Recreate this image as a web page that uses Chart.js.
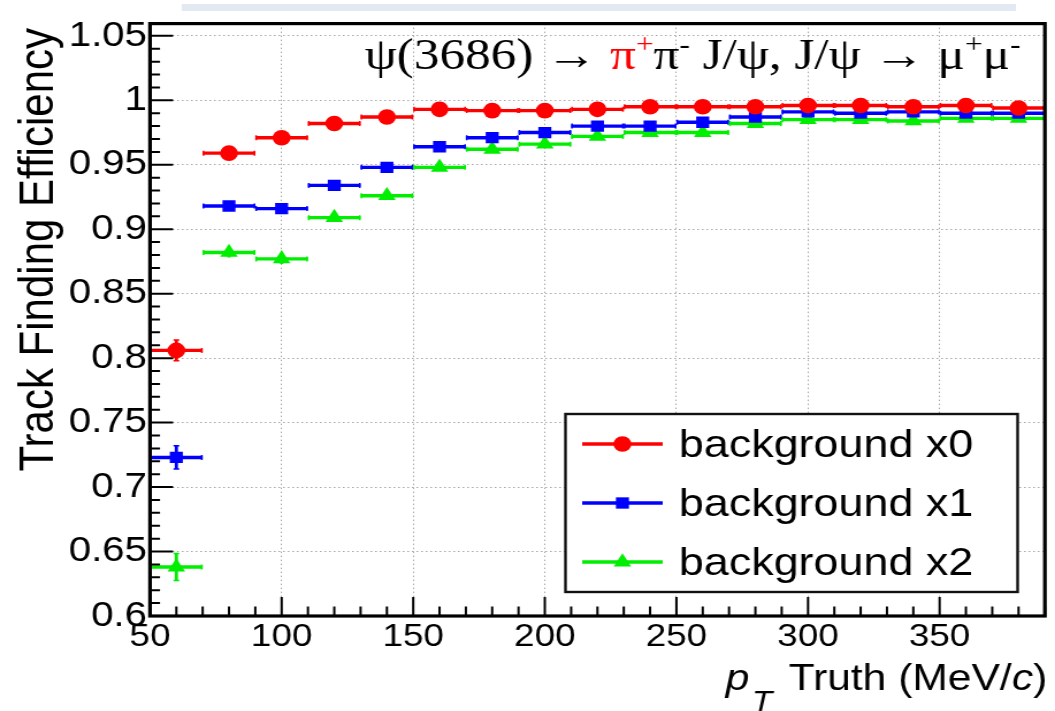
<!DOCTYPE html>
<html lang="en">
<head>
<meta charset="UTF-8">
<title>Track Finding Efficiency</title>
<style>
  html, body { margin: 0; padding: 0; background: #fff; overflow: hidden; }
  /* the plot is drawn on a narrower canvas and widened to the page */
  #wrap { width: 917px; height: 711px; transform: scaleX(1.1505); transform-origin: 0 0; }
</style>
<script src="https://cdn.jsdelivr.net/npm/chart.js"></script>
</head>
<body>
<div id="wrap"><canvas id="effChart" width="917" height="711"></canvas></div>
<script>
// pT bin centres in MeV/c, 20 MeV/c wide bins
const ptBins = [60, 80, 100, 120, 140, 160, 180, 200, 220, 240, 260, 280, 300, 320, 340, 360, 380];
const binHalfWidth = 10;

// efficiency per bin for the three background levels
const effBkg0 = [0.806, 0.959, 0.971, 0.982, 0.987, 0.993, 0.992, 0.992, 0.993, 0.995, 0.995, 0.995, 0.996, 0.996, 0.995, 0.996, 0.994];
const effBkg1 = [0.723, 0.918, 0.916, 0.934, 0.948, 0.964, 0.971, 0.975, 0.980, 0.980, 0.983, 0.987, 0.991, 0.990, 0.991, 0.990, 0.990];
const effBkg2 = [0.638, 0.882, 0.877, 0.909, 0.926, 0.948, 0.962, 0.966, 0.972, 0.975, 0.975, 0.982, 0.985, 0.985, 0.984, 0.986, 0.986];

// statistical errors
const errBkg0 = [0.008, 0.003, 0.003, 0.002, 0.002, 0.0015, 0.0015, 0.0015, 0.0015, 0.001, 0.001, 0.001, 0.001, 0.001, 0.001, 0.001, 0.001];
const errBkg1 = [0.009, 0.003, 0.003, 0.003, 0.002, 0.002, 0.002, 0.002, 0.0015, 0.0015, 0.0015, 0.0015, 0.001, 0.001, 0.001, 0.001, 0.001];
const errBkg2 = [0.0105, 0.004, 0.004, 0.003, 0.003, 0.002, 0.002, 0.002, 0.002, 0.0015, 0.0015, 0.0015, 0.0015, 0.001, 0.001, 0.001, 0.001];

const seriesLabels = ['background x0', 'background x1', 'background x2'];
const xMajorTicks = [50, 100, 150, 200, 250, 300, 350];
const yMajorTicks = [0.6, 0.65, 0.7, 0.75, 0.8, 0.85, 0.9, 0.95, 1.0, 1.05];

const RED = '#ff0000', BLUE = '#0000ff', GREEN = '#00ee00';
const SANS = '"Liberation Sans", Arial, Helvetica, sans-serif';
const SERIF = '"Liberation Serif", "Times New Roman", serif';

function toPoints(vals, errs) {
  return ptBins.map((x, i) => ({ x: x, y: vals[i], xerr: binHalfWidth, yerr: errs[i] }));
}

// marker paths, same geometry as chart.js point styles
function marker(ctx, style, r, x, y) {
  ctx.beginPath();
  if (style === 'circle') {
    ctx.arc(x, y, r, 0, Math.PI * 2);
  } else if (style === 'rect') {
    const h = r * Math.SQRT1_2;
    ctx.rect(x - h, y - h, 2 * h, 2 * h);
  } else if (style === 'triangle') {
    ctx.moveTo(x, y - r);
    ctx.lineTo(x + r * Math.sin(Math.PI / 3), y + r / 2);
    ctx.lineTo(x - r * Math.sin(Math.PI / 3), y + r / 2);
    ctx.closePath();
  }
  ctx.fill();
}

const background = {
  id: 'background',
  beforeDraw(chart) {
    const { ctx, width, height } = chart;
    ctx.save();
    ctx.fillStyle = '#fff';
    ctx.fillRect(0, 0, width, height);
    ctx.fillStyle = '#e2e9f2';
    ctx.fillRect(158, 4, 725, 7);
    ctx.restore();
  }
};

// horizontal bin-width bars and vertical error bars
const errorBars = {
  id: 'errorBars',
  beforeDatasetsDraw(chart) {
    const { ctx, chartArea: a, scales: { x, y } } = chart;
    ctx.save();
    ctx.beginPath();
    ctx.rect(a.left, a.top, a.right - a.left, a.bottom - a.top);
    ctx.clip();
    chart.data.datasets.forEach(ds => {
      ctx.strokeStyle = ds.borderColor;
      ds.data.forEach(p => {
        const py = y.getPixelForValue(p.y);
        const px = x.getPixelForValue(p.x);
        const x0 = x.getPixelForValue(p.x - p.xerr);
        const x1 = x.getPixelForValue(p.x + p.xerr);
        ctx.lineWidth = 3.4;
        ctx.beginPath();
        ctx.moveTo(x0, py); ctx.lineTo(x1, py);
        ctx.stroke();
        ctx.lineWidth = 1.5;
        ctx.beginPath();
        ctx.moveTo(x0 + 0.75, py - 2.5); ctx.lineTo(x0 + 0.75, py + 2.5);
        ctx.moveTo(x1 - 0.75, py - 2.5); ctx.lineTo(x1 - 0.75, py + 2.5);
        ctx.stroke();
        const yHi = y.getPixelForValue(p.y + p.yerr);
        const yLo = y.getPixelForValue(p.y - p.yerr);
        ctx.lineWidth = 2.8;
        ctx.beginPath();
        ctx.moveTo(px, yHi); ctx.lineTo(px, yLo);
        ctx.stroke();
        if (yLo - yHi > 14) {
          ctx.lineWidth = 1.5;
          ctx.beginPath();
          ctx.moveTo(px - 2.5, yHi); ctx.lineTo(px + 2.5, yHi);
          ctx.moveTo(px - 2.5, yLo); ctx.lineTo(px + 2.5, yLo);
          ctx.stroke();
        }
      });
    });
    ctx.restore();
  }
};

// frame plus inward major/minor ticks on the bottom and left axes
const frameTicks = {
  id: 'frameTicks',
  afterDatasetsDraw(chart) {
    const { ctx, chartArea: a, scales: { x, y } } = chart;
    ctx.save();
    ctx.strokeStyle = '#000';
    ctx.lineWidth = 2;
    ctx.beginPath();
    for (let k = 5; k <= 39; k++) {
      const px = x.getPixelForValue(k * 10);
      const len = k % 5 === 0 ? 19 : 9.5;
      ctx.moveTo(px, a.bottom); ctx.lineTo(px, a.bottom - len);
    }
    for (let k = 60; k <= 105; k++) {
      const py = y.getPixelForValue(k / 100);
      const len = k % 5 === 0 ? 20 : 8.7;
      ctx.moveTo(a.left, py); ctx.lineTo(a.left + len, py);
    }
    ctx.stroke();
    ctx.lineWidth = 3.2;
    ctx.strokeRect(a.left, a.top, a.right - a.left, a.bottom - a.top);
    ctx.restore();
  }
};

const rootLegend = {
  id: 'rootLegend',
  afterDatasetsDraw(chart) {
    const { ctx } = chart;
    const box = { left: 491.5, top: 414, right: 884.5, bottom: 592 };
    const rows = [444, 503, 562];
    ctx.save();
    ctx.fillStyle = '#fff';
    ctx.fillRect(box.left, box.top, box.right - box.left, box.bottom - box.top);
    ctx.strokeStyle = '#111';
    ctx.lineWidth = 2.4;
    ctx.strokeRect(box.left, box.top, box.right - box.left, box.bottom - box.top);
    chart.data.datasets.forEach((ds, i) => {
      const cy = rows[i];
      ctx.strokeStyle = ds.borderColor;
      ctx.lineWidth = 3.4;
      ctx.beginPath();
      ctx.moveTo(506, cy); ctx.lineTo(576, cy);
      ctx.stroke();
      ctx.fillStyle = ds.backgroundColor;
      marker(ctx, ds.pointStyle, ds.pointRadius, 541, cy);
      ctx.fillStyle = '#000';
      ctx.font = '39px ' + SANS;
      ctx.textAlign = 'left';
      ctx.textBaseline = 'alphabetic';
      ctx.fillText(ds.label, 590, cy + 13);
    });
    ctx.restore();
  }
};

// draws a run of text pieces, returns the width used
function drawRuns(ctx, runs, x, y, measureOnly) {
  let cx = x;
  runs.forEach(r => {
    ctx.font = r.font;
    if (!measureOnly) {
      ctx.fillStyle = r.color || '#000';
      ctx.fillText(r.t, cx, y + (r.dy || 0));
    }
    cx += ctx.measureText(r.t).width + (r.gap || 0);
  });
  return cx - x;
}

const titles = {
  id: 'titles',
  afterDraw(chart) {
    const { ctx, chartArea: a } = chart;
    ctx.save();
    ctx.textBaseline = 'alphabetic';
    ctx.textAlign = 'left';

    // decay channel label
    const big = '44px ' + SERIF, sup = '27px ' + SERIF;
    const decay = [
      { t: 'ψ(3686) → ', font: big },
      { t: 'π', font: big, color: RED },
      { t: '+', font: sup, color: RED, dy: -16 },
      { t: 'π', font: big },
      { t: '-', font: sup, dy: -16 },
      { t: ' J/ψ, J/ψ → μ', font: big },
      { t: '+', font: sup, dy: -16 },
      { t: 'μ', font: big },
      { t: '-', font: sup, dy: -16 }
    ];
    const natural = drawRuns(ctx, decay, 0, 0, true);
    ctx.save();
    ctx.translate(317, 69);
    ctx.scale(570 / natural, 1);
    drawRuns(ctx, decay, 0, 0, false);
    ctx.restore();

    // y axis title, right aligned at the top of the axis
    ctx.save();
    ctx.translate(46, 28);
    ctx.rotate(-Math.PI / 2);
    ctx.font = '42px ' + SANS;
    ctx.fillStyle = '#000';
    ctx.textAlign = 'right';
    ctx.fillText('Track Finding Efficiency', 0, 0);
    ctx.restore();

    // x axis title, right aligned at the end of the axis
    const xt = [
      { t: 'p', font: 'italic 37px ' + SANS, gap: 2 },
      { t: 'T', font: 'italic 29px ' + SANS, dy: 21, gap: 4 },
      { t: ' Truth (MeV/', font: '37px ' + SANS },
      { t: 'c', font: 'italic 37px ' + SANS },
      { t: ')', font: '37px ' + SANS }
    ];
    const w = drawRuns(ctx, xt, 0, 0, true);
    drawRuns(ctx, xt, a.right + 2 - w, 690, false);
    ctx.restore();
  }
};

const datasets = [
  { label: seriesLabels[0], data: toPoints(effBkg0, errBkg0), color: RED, pointStyle: 'circle', pointRadius: 7.8 },
  { label: seriesLabels[1], data: toPoints(effBkg1, errBkg1), color: BLUE, pointStyle: 'rect', pointRadius: 8 },
  { label: seriesLabels[2], data: toPoints(effBkg2, errBkg2), color: GREEN, pointStyle: 'triangle', pointRadius: 8.8 }
].map(d => ({
  label: d.label,
  data: d.data,
  borderColor: d.color,
  backgroundColor: d.color,
  pointStyle: d.pointStyle,
  pointRadius: d.pointRadius,
  pointHoverRadius: d.pointRadius,
  pointBorderWidth: 0,
  showLine: false
}));

new Chart(document.getElementById('effChart'), {
  type: 'scatter',
  data: { datasets: datasets },
  options: {
    responsive: false,
    animation: false,
    events: [],
    layout: { padding: { top: 12, right: 7.4, left: 0, bottom: 0 } },
    plugins: { legend: { display: false }, tooltip: { enabled: false } },
    scales: {
      x: {
        type: 'linear',
        min: 50,
        max: 390,
        afterBuildTicks: s => { s.ticks = xMajorTicks.map(v => ({ value: v })); },
        afterFit: s => { s.height = 95; },
        ticks: {
          autoSkip: false,
          maxRotation: 0,
          padding: 2,
          color: '#000',
          font: { family: SANS, size: 32 },
          callback: v => String(v)
        },
        grid: { color: '#a8a8a8', lineWidth: 1, drawTicks: false },
        border: { display: false, dash: [1.5, 2.5] }
      },
      y: {
        type: 'linear',
        min: 0.6,
        max: 1.0595,
        afterBuildTicks: s => { s.ticks = yMajorTicks.map(v => ({ value: v })); },
        afterFit: s => { s.width = 130.4; },
        ticks: {
          autoSkip: false,
          padding: 2.6,
          color: '#000',
          font: { family: SANS, size: 35 },
          callback: v => String(+v.toFixed(2))
        },
        grid: { color: '#a8a8a8', lineWidth: 1, drawTicks: false },
        border: { display: false, dash: [1.5, 2.5] }
      }
    }
  },
  plugins: [background, errorBars, frameTicks, rootLegend, titles]
});
</script>
</body>
</html>
